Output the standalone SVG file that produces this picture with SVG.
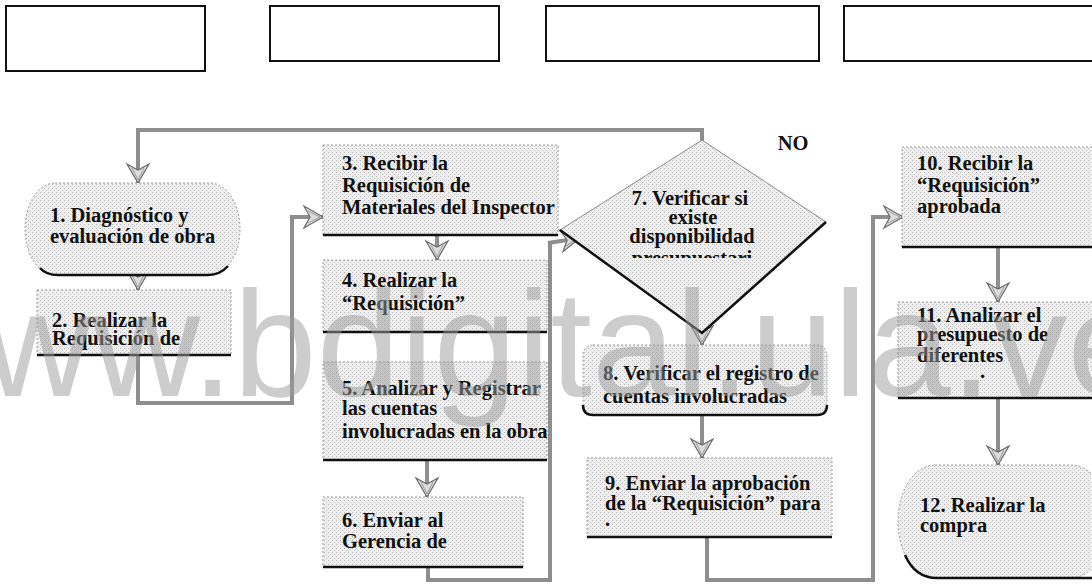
<svg xmlns="http://www.w3.org/2000/svg" width="1092" height="584" viewBox="0 0 1092 584">
<defs>
<pattern id="stip" width="4" height="4" patternUnits="userSpaceOnUse">
<rect width="4" height="4" fill="#eeeeee"/>
<rect x="0" y="0" width="1" height="1" fill="#b8b8b8"/>
<rect x="2" y="2" width="1" height="1" fill="#c8c8c8"/>
</pattern>
<marker id="ah" viewBox="-22 -13 24 26" markerWidth="24" markerHeight="26" refX="0" refY="0" orient="auto" markerUnits="userSpaceOnUse">
<path d="M0,0 L-19,-11 L-13,0 L-19,11 Z" fill="#dcdcdc" stroke="#6a6a6a" stroke-width="1.2"/>
<path d="M-3,0 L-15,-6 M-3,0 L-15,6" stroke="#9a9a9a" stroke-width="1"/>
</marker>
<clipPath id="dclip"><rect x="560" y="140" width="270" height="118"/></clipPath>
</defs>
<style>
.hdr{fill:#fff;stroke:#111;stroke-width:2}
.box{fill:url(#stip);stroke:#9a9a9a;stroke-width:1;stroke-dasharray:2 2}
.base{stroke:#111;stroke-width:2.5;fill:none}
.conn{fill:none;stroke:#8e8e8e;stroke-width:4}
.arr{fill:none;stroke:#8e8e8e;stroke-width:4;marker-end:url(#ah)}
.t{font-family:"Liberation Serif","Times New Roman",serif;font-weight:bold;font-size:20.5px;fill:#111}
.wm{font-family:"Liberation Sans",Arial,sans-serif;font-size:150px;fill:#9c9c9c;opacity:0.5}
</style>
<rect width="1092" height="584" fill="#fff"/>

<g id="headers">
<rect class="hdr" x="6" y="6" width="199" height="65"/>
<rect class="hdr" x="270" y="6" width="229" height="55"/>
<rect class="hdr" x="546" y="6" width="273" height="55"/>
<rect class="hdr" x="844" y="6" width="260" height="55"/>
</g>

<g id="connectors">
<path class="conn" d="M702,168 L702,130 L138,130 L138,160"/>
<path class="arr" d="M138,150 L138,183"/>
<path class="arr" d="M138,275 L138,290"/>
<path class="conn" d="M138,355 L138,403 L292,403 L292,217"/>
<path class="arr" d="M290,217 L323,217"/>
<path class="arr" d="M437,235 L437,260"/>
<path class="arr" d="M427,460 L427,497"/>
<path class="conn" d="M428,567 L428,580 L550,580 L550,243"/>
<path class="arr" d="M548,243 L580,238"/>
<path class="arr" d="M702,310 L702,345"/>
<path class="arr" d="M702,415 L702,458"/>
<path class="conn" d="M707,537 L707,580 L873,580 L873,217"/>
<path class="arr" d="M871,217 L903,217"/>
<path class="arr" d="M998,247 L998,302"/>
<path class="arr" d="M998,398 L998,465"/>
</g>

<g id="n1">
<path class="box" d="M55,183 L210,183 A30,46 0 0 1 240,229 A30,46 0 0 1 210,275 L55,275 A30,46 0 0 1 25,229 A30,46 0 0 1 55,183 Z"/>
<path class="base" d="M40,268 Q46,275 58,275 L208,275 Q220,275 228,266"/>
<text class="t" x="50" y="222">1. Diagnóstico y</text>
<text class="t" x="50" y="243">evaluación de obra</text>
</g>

<g id="n2">
<rect class="box" x="37" y="290" width="194" height="65"/>
<path class="base" d="M37,355 L231,355"/>
<text class="t" x="52" y="327">2. Realizar la</text>
<text class="t" x="52" y="345">Requisición de</text>
</g>

<g id="n3">
<rect class="box" x="323" y="145" width="235" height="90"/>
<path class="base" d="M323,235 L558,235"/>
<text class="t" x="342" y="170">3. Recibir la</text>
<text class="t" x="342" y="192">Requisición de</text>
<text class="t" x="342" y="214">Materiales del Inspector</text>
</g>

<g id="n4">
<rect class="box" x="323" y="260" width="224" height="72"/>
<path class="base" d="M323,332 L547,332"/>
<text class="t" x="342" y="287">4. Realizar la</text>
<text class="t" x="342" y="310">“Requisición”</text>
</g>

<g id="n5">
<rect class="box" x="323" y="362" width="224" height="98"/>
<path class="base" d="M323,460 L547,460"/>
<text class="t" x="342" y="395">5. Analizar y Registrar</text>
<text class="t" x="342" y="415">las cuentas</text>
<text class="t" x="342" y="438">involucradas en la obra</text>
</g>

<g id="n6">
<rect class="box" x="323" y="497" width="200" height="70"/>
<path class="base" d="M323,567 L523,567"/>
<text class="t" x="342" y="527">6. Enviar al</text>
<text class="t" x="342" y="548">Gerencia de</text>
</g>

<g id="n7">
<path d="M702,140 L826,222 L702,333 L560,230 Z" fill="url(#stip)" stroke="#8a8a8a" stroke-width="1"/>
<path class="base" d="M560,230 L702,333 L826,222" stroke-width="2"/>
<text class="t" x="690" y="205" text-anchor="middle">7. Verificar si</text>
<text class="t" x="693" y="224" text-anchor="middle">existe</text>
<text class="t" x="692" y="243" text-anchor="middle">disponibilidad</text>
<text class="t" x="692" y="265" text-anchor="middle" clip-path="url(#dclip)">presupuestari</text>
<text class="t" x="793" y="150" text-anchor="middle">NO</text>
</g>

<g id="n8">
<rect class="box" x="583" y="345" width="244" height="70" rx="10"/>
<path class="base" d="M583,405 Q583,415 593,415 L817,415 Q827,415 827,405"/>
<text class="t" x="603" y="380">8. Verificar el registro de</text>
<text class="t" x="603" y="403">cuentas involucradas</text>
</g>

<g id="n9">
<rect class="box" x="587" y="458" width="245" height="79"/>
<path class="base" d="M587,537 L832,537"/>
<text class="t" x="605" y="490">9. Enviar la aprobación</text>
<text class="t" x="605" y="510">de la “Requisición” para</text>
<text class="t" x="605" y="526">.</text>
</g>

<g id="n10">
<rect class="box" x="902" y="147" width="200" height="100"/>
<path class="base" d="M902,247 L1092,247"/>
<text class="t" x="917" y="170">10. Recibir la</text>
<text class="t" x="917" y="192">“Requisición”</text>
<text class="t" x="917" y="213">aprobada</text>
</g>

<g id="n11">
<rect class="box" x="898" y="302" width="204" height="96"/>
<path class="base" d="M898,398 L1092,398"/>
<text class="t" x="917" y="322">11. Analizar el</text>
<text class="t" x="917" y="341">presupuesto de</text>
<text class="t" x="917" y="362">diferentes</text>
<text class="t" x="980" y="378">.</text>
</g>

<g id="n12">
<path class="box" d="M935,465 L1070,465 A40,56 0 0 1 1110,521 A40,56 0 0 1 1070,578 L935,578 A37,56 0 0 1 898,521 A37,56 0 0 1 935,465 Z"/>
<path class="base" d="M905,555 Q915,578 937,578 L1092,578"/>
<text class="t" x="920" y="512">12. Realizar la</text>
<text class="t" x="920" y="532">compra</text>
</g>

<text class="wm" x="-125" y="396">www.bdigital.ula.ve</text>
</svg>
